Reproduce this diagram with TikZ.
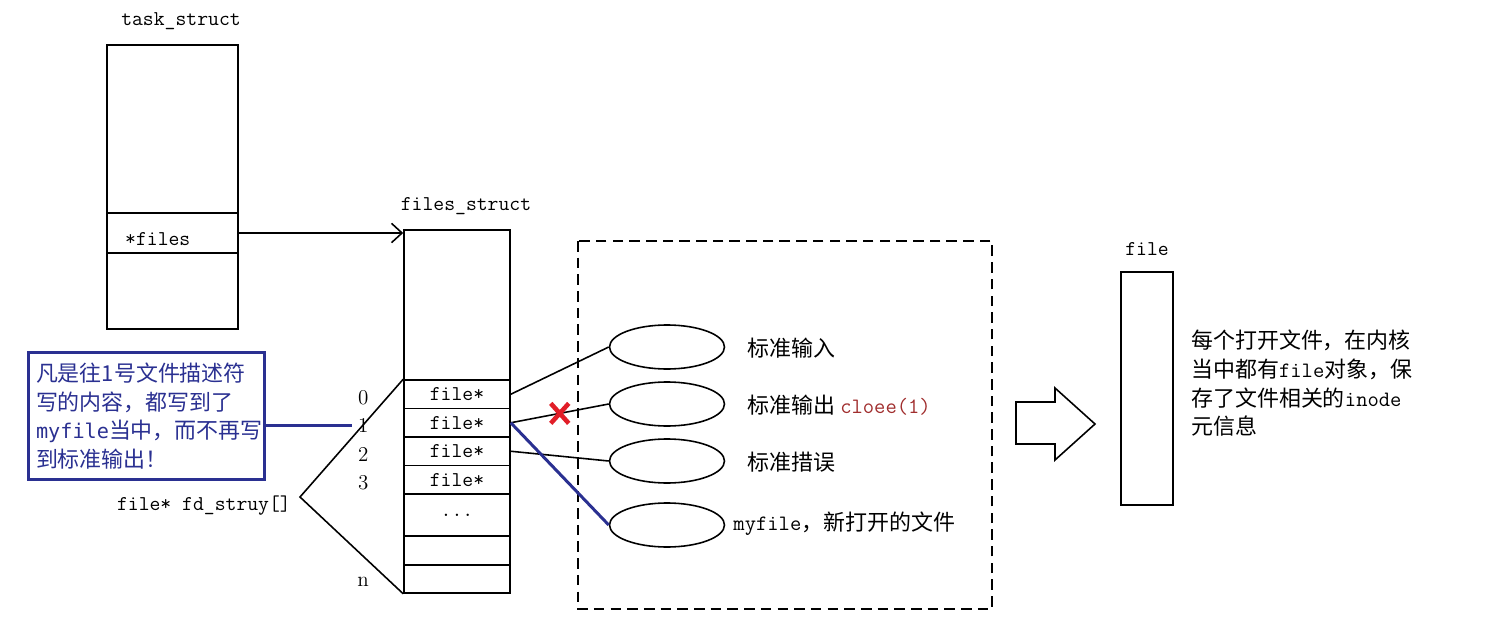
\documentclass[tikz,border=0pt]{standalone}
\usepackage{fontspec}
\newfontfamily\cjk{Noto Sans CJK SC}
\newfontfamily\codesans{DejaVu Sans Mono}[Scale=0.92]
\usetikzlibrary{calc,arrows.meta,shapes.geometric}
\tikzset {>={Straight Barb[length=6pt,width=11pt]}}
\definecolor{noteblue}{RGB}{42,48,145}
\definecolor{closered}{RGB}{160,45,45}
\definecolor{crossred}{RGB}{225,30,40}
\newcommand\fddots{.{}.{}.}
\tikzset{
  box/.style={draw,line width=.9pt,inner sep=0pt},
  fdcell/.style={box,minimum width=2.12cm,font=\ttfamily\fontsize{12}{14}\selectfont},
  oval/.style={draw,ellipse,line width=.9pt,minimum width=2.3cm,minimum height=.88cm},
  title/.style={font=\ttfamily\fontsize{12}{14}\selectfont},
  cn/.style={font=\cjk\fontsize{12.5}{16.3}\selectfont,align=left},
  link/.style={line width=.9pt},
  bluelink/.style={noteblue,line width=1.7pt}
}

\begin{document}
\begin{tikzpicture}[x=.02cm,y=-.02cm]
\useasboundingbox (0,0) rectangle (1504,625);
% task_struct
\node[box,minimum width=2.62cm,minimum height=3.36cm] (task) at (172.5,129) {};
\node[box,minimum width=2.62cm,minimum height=.8cm] (files) at (172.5,233) {};
\node[box,minimum width=2.62cm,minimum height=1.52cm] (taskrest) at (172.5,291) {};
\node[title] (tasklbl) at (181,21) {task\_struct};
\node[title,anchor=west] (fileslbl) at (119,239) {*files};
% files_struct
\node[box,minimum width=2.12cm,minimum height=7.26cm] (fs) at (457,411.5) {};
\node[title] (fslbl) at (466,206) {files\_struct};
\foreach \i/\y/\h/\t in {0/394.25/.57/file*,1/422.75/.57/file*,2/451.25/.57/file*,3/479.75/.57/file*,4/515/.84/\fddots,5/550.5/.58/{},6/579/.56/{}} {
  \node[fdcell,minimum height=\h cm] (fd\i) at (457,\y) {\t};
}
\foreach \i/\n in {0/0,1/1,2/2,3/3,6/n} {
  \node[font=\fontsize{12}{14}\selectfont] (idx\i) at ($(fd\i.west)+(-40,3)$) {\n};
}
\draw[->,link] (files.east) -- (files.east -| fs.west);
\coordinate (brace) at (300,497);
\draw[link] (fd0.north west) -- (brace) -- (fd6.south west);
\node[title,anchor=east] (fdarr) at ($(brace)+(-3,9)$) {file* fd\_struy[]};
% note
\node[draw=noteblue,line width=1.7pt,text=noteblue,cn,minimum width=4.74cm,minimum height=2.56cm,text width=4.42cm] (note) at (146.5,416)
  {凡是往1号文件描述符\\写的内容，都写到了\\{\codesans myfile}当中，而不再写\\到标准输出！};
\draw[bluelink] (note.east |- idx1.west) -- (idx1.west);
% open files
\draw[dashed,link,dash pattern=on 6pt off 3.5pt] (578,241) rectangle (992,609);
\foreach \name/\y in {in/347,out/404,err/461,my/525} {
  \node[oval] (\name) at (667,\y) {};
}
\node[cn,anchor=west] (inlbl) at ($(in.east)+(16,1)$) {标准输入};
\node[cn,anchor=west] (outlbl) at ($(out.east)+(16,1)$) {标准输出 {\ttfamily\color{closered}cloee(1)}};
\node[cn,anchor=west] (errlbl) at ($(err.east)+(16,1)$) {标准措误};
\node[cn,anchor=west] (mylbl) at ($(my.east)+(2,-1)$) {{\ttfamily myfile}，新打开的文件};
\draw[link] (fd0.east) -- (in.west);
\draw[link] (fd1.east) -- (out.west);
\draw[link] (fd2.east) -- (err.west);
\draw[bluelink] (fd1.east) -- (my.west);
\coordinate (cut) at ($(fd1.east)!.5!(out.west)$);
\draw[crossred,line width=2.6pt] ($(cut)+(-9,-10)$) -- ($(cut)+(9,10)$) ($(cut)+(-9,10)$) -- ($(cut)+(9,-10)$);
% big arrow
\draw[link] (1016,402) -- (1055,402) -- (1055,388) -- (1095,424) -- (1055,460) -- (1055,444) -- (1016,444) -- cycle;
% file
\node[box,minimum width=1.04cm,minimum height=4.66cm] (fobj) at (1147,388.5) {};
\node[title] (fobjlbl) at (1147,249) {file};
\node[cn,anchor=north west] (info) at (1185,324)
  {每个打开文件，在内核\\当中都有{\ttfamily file}对象，保\\存了文件相关的{\ttfamily inode}\\元信息};
\end{tikzpicture}
\end{document}
